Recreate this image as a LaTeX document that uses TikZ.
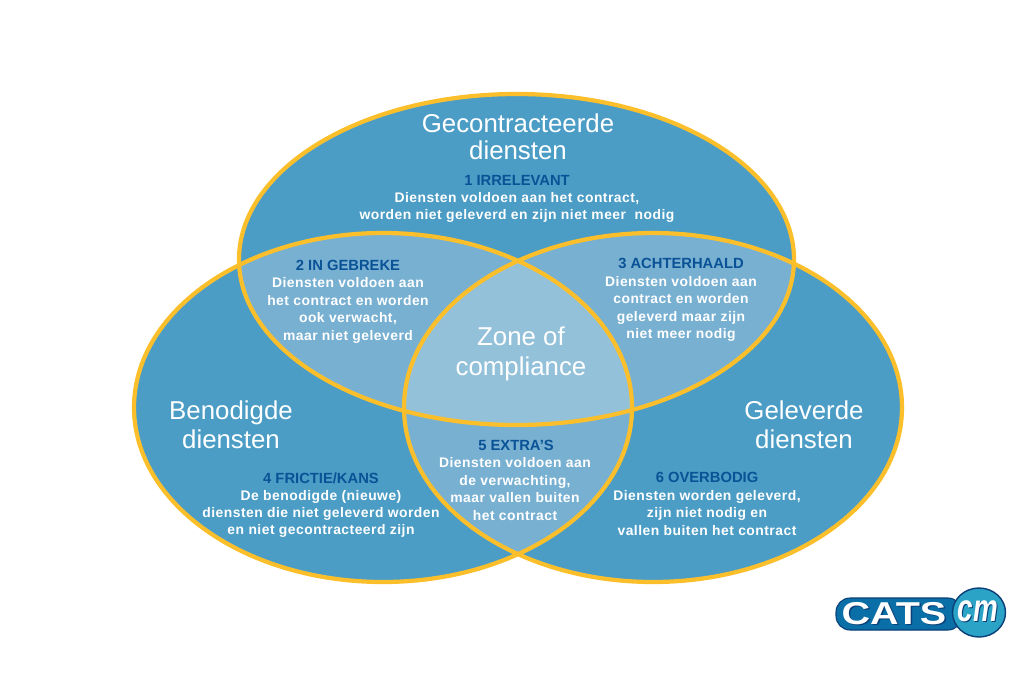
\documentclass[tikz,border=0pt]{standalone}
\usepackage{fontspec}
\setmainfont{Liberation Sans}
\newfontfamily\spacedfont[LetterSpace=3.5]{Liberation Sans}
\definecolor{basisblauw}{HTML}{4B9DC6}
\definecolor{tweeblauw}{HTML}{78B0D2}
\definecolor{drieblauw}{HTML}{93C1DA}
\definecolor{rand}{HTML}{FBBF2C}
\definecolor{kopblauw}{HTML}{0A5296}
\definecolor{logoblauw}{HTML}{0A6FA6}
\definecolor{logodonker}{HTML}{0B3F78}
\definecolor{logocirkel}{HTML}{2BA3C6}
\tikzset{
  rand/.style={draw=rand,line width=2.4pt},
  groot/.style={text=white,align=center,font=\fontsize{14.7}{16.5}\selectfont},
  kop/.style={text=kopblauw,font=\fontsize{8.4}{9}\selectfont\bfseries},
  tekst/.style={text=white,align=center,font=\fontsize{7.9}{9.9}\selectfont\spacedfont\bfseries},
  logotekst/.style={xscale=1.25,transform shape,font=\fontsize{18}{19}\selectfont\bfseries},
  logocm/.style={xscale=0.72,transform shape,font=\fontsize{22}{23}\selectfont\bfseries\itshape},
}
\newcommand{\boven}{(516.5,-259.5) ellipse (277.5 and 165.5)}
\newcommand{\links}{(383,-407.5) ellipse (249 and 174.5)}
\newcommand{\rechts}{(653,-407.5) ellipse (249 and 174.5)}
\begin{document}
\begin{tikzpicture}[x=0.02cm,y=0.02cm]
\useasboundingbox (0,0) rectangle (1035,-676);
% vlakken
\fill[basisblauw] \boven;
\fill[basisblauw] \links;
\fill[basisblauw] \rechts;
\begin{scope}
\clip \boven;
\fill[tweeblauw] \links;
\fill[tweeblauw] \rechts;
\end{scope}
\begin{scope}
\clip \links;
\fill[tweeblauw] \rechts;
\end{scope}
\begin{scope}
\clip \boven;
\clip \links;
\fill[drieblauw] \rechts;
\end{scope}
% randen
\draw[rand] \boven;
\draw[rand] \links;
\draw[rand] \rechts;
% teksten
\node[groot] (gecontracteerd) at (518,-137) {Gecontracteerde\\[-1.2pt]diensten};
\node[groot] (benodigd) at (231,-424.5) {Benodigde\\diensten};
\node[groot] (geleverd) at (804,-424.5) {Geleverde\\diensten};
\node[groot] (zone) at (521,-354) {Zone of\\[0.3pt]compliance};
\node[kop] (kop1) at (517,-180.5) {1 IRRELEVANT};
\node[tekst] (tekst1) at (517,-207.5) {Diensten voldoen aan het contract,\\worden niet geleverd en zijn niet meer\ \ nodig};
\node[kop] (kop2) at (348,-265) {2 IN GEBREKE};
\node[tekst] (tekst2) at (348,-310.5) {Diensten voldoen aan\\het contract en worden\\ook verwacht,\\maar niet geleverd};
\node[kop] (kop3) at (681,-263) {3 ACHTERHAALD};
\node[tekst] (tekst3) at (681,-309) {Diensten voldoen aan\\contract en worden\\geleverd maar zijn\\niet meer nodig};
\node[kop] (kop4) at (321,-478) {4 FRICTIE/KANS};
\node[tekst] (tekst4) at (321,-514) {De benodigde (nieuwe)\\diensten die niet geleverd worden\\en niet gecontracteerd zijn};
\node[kop] (kop5) at (516,-445) {5 EXTRA'S};
\node[tekst] (tekst5) at (515,-489) {Diensten voldoen aan\\de verwachting,\\maar vallen buiten\\het contract};
\node[kop] (kop6) at (707,-477) {6 OVERBODIG};
\node[tekst] (tekst6) at (707,-513) {Diensten worden geleverd,\\zijn niet nodig en\\vallen buiten het contract};
% logo
\draw[logodonker,fill=logoblauw,line width=0.6pt,rounded corners=8pt] (836,-598) rectangle (962,-630);
\draw[logodonker,fill=logocirkel,line width=0.8pt] (979,-612.5) ellipse (26.5 and 24.5);
\node[logotekst,text=logodonker] (catsschaduw) at (895.5,-614.5) {CATS};
\node[logotekst,text=white] (cats) at (894,-613.5) {CATS};
\node[logocm,text=logodonker] (cmschaduw) at (979,-612) {cm};
\node[logocm,text=white] (cm) at (978,-611) {cm};
\end{tikzpicture}
\end{document}
